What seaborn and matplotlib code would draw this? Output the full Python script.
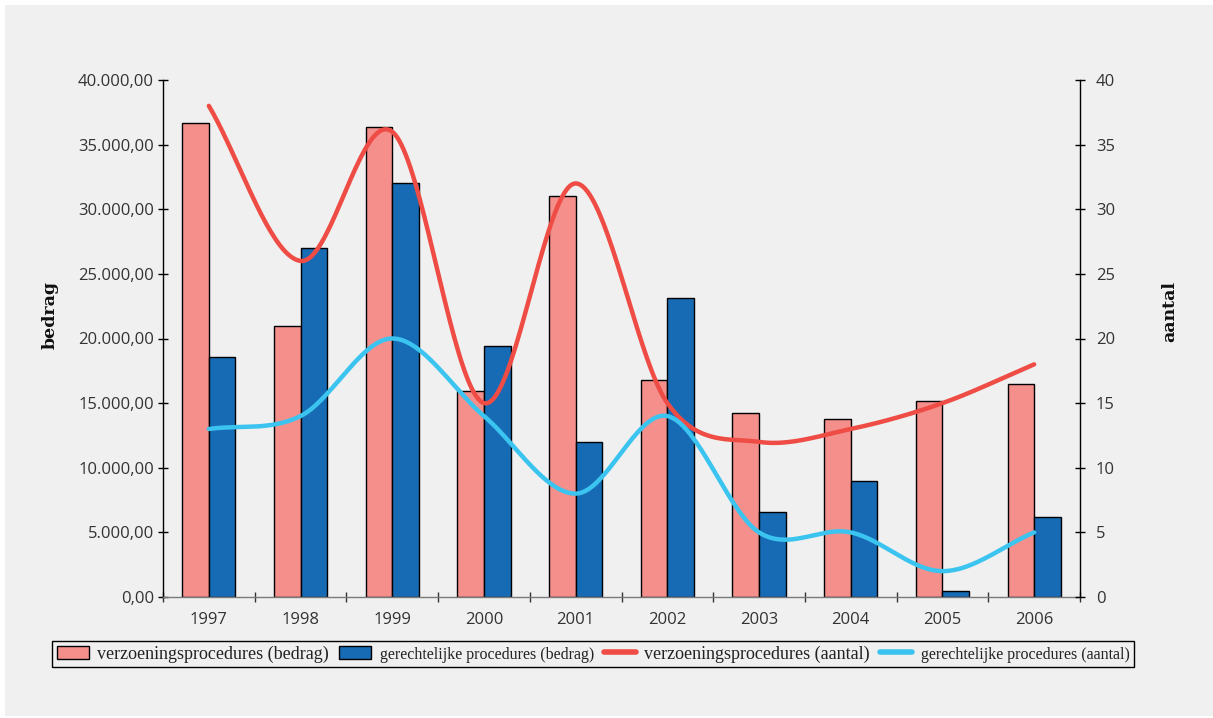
import numpy as np
import pandas as pd
import matplotlib
matplotlib.use("Agg")
import matplotlib.pyplot as plt
import seaborn as sns
from matplotlib.patches import Rectangle, Patch
from matplotlib.lines import Line2D
from matplotlib.ticker import FuncFormatter, FixedLocator

# ---- data ----
years = ["1997", "1998", "1999", "2000", "2001", "2002", "2003", "2004", "2005", "2006"]
verzoening_bedrag = [36700, 21000, 36400, 15900, 31000, 16800, 14200, 13800, 15200, 16500]
gerecht_bedrag = [18600, 27000, 32000, 19400, 12000, 23100, 6600, 9000, 500, 6200]
verzoening_aantal = [38, 26, 36, 15, 32, 15, 12, 13, 15, 18]
gerecht_aantal = [13, 14, 20, 14, 8, 14, 5, 5, 2, 5]

labels = [
    "verzoeningsprocedures (bedrag)",
    "gerechtelijke procedures (bedrag)",
    "verzoeningsprocedures (aantal)",
    "gerechtelijke procedures (aantal)",
]

PINK = "#f48f8b"
BLUE = "#176bb5"
RED = "#ee4c45"
CYAN = "#3bc4ef"
BG = "#eff0ef"
TXT = "#333333"


def smooth(y, per_seg=40):
    """Catmull-Rom curve through the given points (x = 0..n-1),
    with the end tangents pointing at the neighbouring point."""
    y = np.asarray(y, dtype=float)
    p = np.concatenate([[2 * y[0] - y[1]], y, [2 * y[-1] - y[-2]]])
    xs, ys = [], []
    t = np.linspace(0, 1, per_seg, endpoint=False)
    for i in range(len(y) - 1):
        p0, p1, p2, p3 = p[i], p[i + 1], p[i + 2], p[i + 3]
        seg = 0.5 * ((2 * p1) + (-p0 + p2) * t + (2 * p0 - 5 * p1 + 4 * p2 - p3) * t ** 2
                     + (-p0 + 3 * p1 - 3 * p2 + p3) * t ** 3)
        xs.append(i + t)
        ys.append(seg)
    xs.append([len(y) - 1])
    ys.append([y[-1]])
    return np.concatenate(xs), np.concatenate(ys)


sns.set_theme(style="white")
plt.rcParams["font.family"] = ["Open Sans", "DejaVu Sans"]

fig = plt.figure(figsize=(12.13, 7.18), dpi=100, facecolor="white")
fig.patches.append(Rectangle((5 / 1213, 2 / 718), 1, 1 - 7 / 718, transform=fig.transFigure,
                             facecolor=BG, edgecolor="none", zorder=-10))

ax = fig.add_axes([163 / 1213, 1 - 597 / 718, 917 / 1213, 517 / 718])
ax.set_facecolor("none")

bars = pd.DataFrame({
    "jaar": years * 2,
    "bedrag": verzoening_bedrag + gerecht_bedrag,
    "reeks": [labels[0]] * len(years) + [labels[1]] * len(years),
})
sns.barplot(data=bars, x="jaar", y="bedrag", hue="reeks", palette=[PINK, BLUE],
            width=0.58, gap=0, edgecolor="black", linewidth=1, saturation=1,
            legend=False, ax=ax, zorder=2)

ax.set_xlim(-0.5, len(years) - 0.5)
ax.set_ylim(0, 40000)
ax.set_yticks(np.arange(0, 40001, 5000))
ax.yaxis.set_major_formatter(FuncFormatter(
    lambda v, _: f"{v:,.2f}".replace(",", "X").replace(".", ",").replace("X", ".")))
ax.set_xlabel("")
ax.set_ylabel("")

ax2 = ax.twinx()
ax2.set_facecolor("none")
for vals, col in [(verzoening_aantal, RED), (gerecht_aantal, CYAN)]:
    sx, sy = smooth(vals)
    sns.lineplot(x=sx, y=sy, color=col, linewidth=3.2, ax=ax2, sort=False,
                 estimator=None, zorder=3)
ax2.set_ylim(0, 40)
ax2.set_yticks(np.arange(0, 41, 5))
ax2.set_xlim(-0.5, len(years) - 0.5)
ax2.set_ylabel("")

# spines
for a in (ax, ax2):
    a.spines["top"].set_visible(False)
    a.spines["left"].set_color("black")
    a.spines["right"].set_color("black")
    a.spines["bottom"].set_color("#7a7a7a")
    for s in a.spines.values():
        s.set_linewidth(1)
ax.spines["right"].set_visible(False)
ax2.spines["left"].set_visible(False)
ax2.spines["bottom"].set_visible(False)

ax.tick_params(axis="y", direction="inout", length=7, width=1, color="black",
               labelsize=12, labelcolor=TXT, pad=3, left=True)
ax2.tick_params(axis="y", direction="inout", length=7, width=1, color="black",
                labelsize=12, labelcolor=TXT, pad=8, right=True)

# x ticks: labels at the centres, tick marks on the boundaries
ax.tick_params(axis="x", which="major", length=0, labelsize=12, labelcolor=TXT, pad=11)
ax.xaxis.set_minor_locator(FixedLocator(np.arange(-0.5, len(years), 1)))
ax.tick_params(axis="x", which="minor", direction="inout", length=7, width=1,
               color="#333333", bottom=True)

fig.text(50 / 1213, 1 - 315 / 718, "bedrag", rotation=90, ha="center", va="center",
         fontsize=12.5, fontweight="bold", family=["DejaVu Serif"], color="#111111")
fig.text(1170 / 1213, 1 - 312 / 718, "aantal", rotation=90, ha="center", va="center",
         fontsize=12.5, fontweight="bold", family=["DejaVu Serif"], color="#111111")

handles = [
    Patch(facecolor=PINK, edgecolor="black", linewidth=1),
    Patch(facecolor=BLUE, edgecolor="black", linewidth=1),
    Line2D([], [], color=RED, linewidth=4),
    Line2D([], [], color=CYAN, linewidth=4),
]
leg = fig.legend(handles, labels, loc="center", bbox_to_anchor=(593 / 1213, 1 - 654 / 718),
                 ncol=4, frameon=True, fancybox=False, framealpha=1,
                 prop={"family": ["Liberation Serif"], "size": 13},
                 handlelength=1.8, handleheight=0.75, handletextpad=0.45,
                 columnspacing=0.55, borderpad=0.25, borderaxespad=0)
leg.get_frame().set_edgecolor("black")
leg.get_frame().set_facecolor(BG)
leg.get_frame().set_linewidth(1)
for i, t in enumerate(leg.get_texts()):
    t.set_color("#222222")
    if i % 2 == 1:
        t.set_fontsize(11.5)

fig.savefig("out.png", dpi=100, facecolor=fig.get_facecolor())
